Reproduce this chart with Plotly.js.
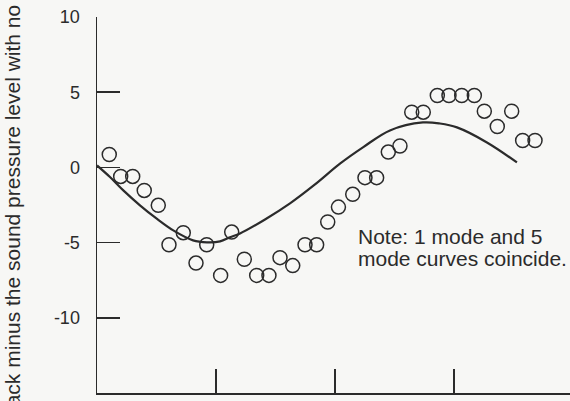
<!DOCTYPE html>
<html>
<head>
<meta charset="utf-8">
<script src="https://cdn.plot.ly/plotly-3.0.1.min.js"></script>
<style>html,body{margin:0;padding:0;background:#f7f7f5;}#chart{width:570px;height:401px;}</style>
</head>
<body>
<div id="chart"></div>
<script>
// Measured points (circles)
const measX = [0.103,0.199,0.300,0.397,0.515,0.605,0.725,0.832,0.922,1.039,1.132,1.238,1.342,1.445,1.538,1.645,1.748,1.846,1.939,2.029,2.149,2.252,2.350,2.448,2.546,2.645,2.742,2.860,2.958,3.065,3.171,3.255,3.364,3.485,3.577,3.681];
const measY = [0.86,-0.60,-0.60,-1.53,-2.52,-5.14,-4.34,-6.36,-5.14,-7.18,-4.30,-6.11,-7.18,-7.18,-6.00,-6.53,-5.14,-5.14,-3.63,-2.64,-1.79,-0.68,-0.68,1.02,1.42,3.67,3.67,4.78,4.78,4.78,4.78,3.74,2.72,3.74,1.79,1.79];
// Predicted curve (1 mode and 5 mode coincide)
const curveX = [0,0.109,0.221,0.361,0.502,0.641,0.807,0.924,1.034,1.118,1.202,1.412,1.622,1.832,2.042,2.238,2.462,2.739,2.882,3.025,3.277,3.529];
const curveY = [0.13,-0.64,-1.53,-2.52,-3.41,-4.19,-4.85,-4.98,-4.92,-4.65,-4.39,-3.46,-2.39,-1.13,0.25,1.35,2.46,2.99,2.92,2.66,1.66,0.33];
const yTicks = [-10,-5,0,5,10];
const xTicks = [1,2,3];
const yTitle = "Sound pressure level with the stack minus the sound pressure level with no stack (dB)";
const noteLines = ["Note: 1 mode and 5", "mode curves coincide."];

const ink = '#2b2b2b';
const traces = [
  {x: curveX, y: curveY, type: 'scatter', mode: 'lines', line: {color: ink, width: 2.2, shape: 'spline'}, hoverinfo: 'skip'},
  {x: measX, y: measY, type: 'scatter', mode: 'markers', cliponaxis: false,
   marker: {symbol: 'circle-open', size: 14, color: ink, line: {width: 1.5, color: ink}}}
];
const plotH = 401 - 17 - 8;
const layout = {
  width: 570, height: 401,
  margin: {l: 97, r: 0, t: 17, b: 8},
  paper_bgcolor: '#f7f7f5', plot_bgcolor: '#f7f7f5',
  showlegend: false,
  font: {family: 'Liberation Sans, Arial, sans-serif', color: ink},
  xaxis: {range: [0, 3.975], showgrid: false, zeroline: false, showline: true, linecolor: ink, linewidth: 1.5,
          ticks: 'inside', ticklen: 24, tickwidth: 1.5, tickcolor: ink, tickvals: xTicks, showticklabels: false},
  yaxis: {range: [-15, 10], showgrid: false, zeroline: false, showline: true, linecolor: ink, linewidth: 1.5,
          ticks: 'inside', ticklen: 23, tickwidth: 1.5, tickcolor: ink, tickvals: yTicks,
          ticktext: yTicks.map(String), tickfont: {size: 18, color: ink}, ticklabelstandoff: 12},
  annotations: [
    {xref: 'paper', yref: 'paper', x: (12 - 97) / 473, y: (393 - 706) / plotH, xanchor: 'center', yanchor: 'bottom',
     text: yTitle, textangle: -90, showarrow: false, font: {size: 21, color: ink}},
    {xref: 'x', yref: 'y', x: 2.18, y: -4.6, xanchor: 'left', yanchor: 'middle', text: noteLines[0],
     showarrow: false, font: {size: 21, color: ink}},
    {xref: 'x', yref: 'y', x: 2.18, y: -6.05, xanchor: 'left', yanchor: 'middle', text: noteLines[1],
     showarrow: false, font: {size: 21, color: ink}}
  ]
};
Plotly.newPlot('chart', traces, layout, {displayModeBar: false, staticPlot: true});
</script>
</body>
</html>
